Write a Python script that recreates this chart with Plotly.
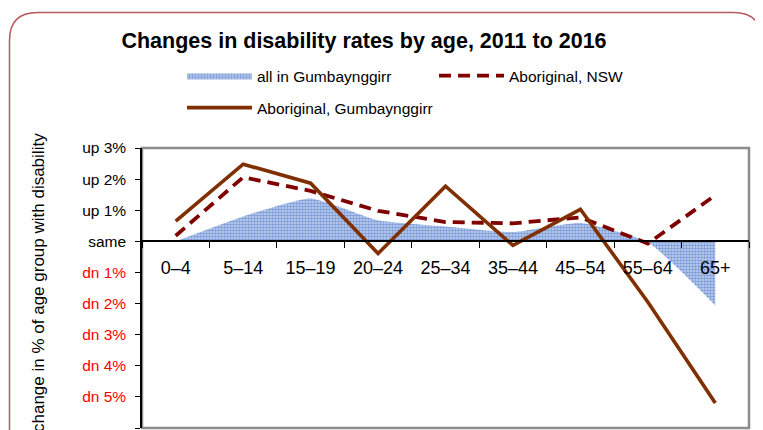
import plotly.graph_objects as go

# ---- data ----
categories = ["0–4", "5–14", "15–19", "20–24", "25–34", "35–44", "45–54", "55–64", "65+"]
all_gumbaynggirr = [0.0, 0.8, 1.38, 0.68, 0.48, 0.3, 0.59, -0.03, -2.06]
aboriginal_nsw = [0.18, 2.06, 1.62, 0.98, 0.62, 0.58, 0.77, -0.07, 1.48]
aboriginal_gumbaynggirr = [0.65, 2.48, 1.87, -0.39, 1.77, -0.13, 1.03, -1.95, -5.2]

y_tickvals = [3, 2, 1, 0, -1, -2, -3, -4, -5, -6]
y_ticktext = ["up 3%", "up 2%", "up 1%", "same", "dn 1%", "dn 2%", "dn 3%", "dn 4%", "dn 5%", "dn 6%"]

# page body has an 8px default margin; lay out in screen pixels and convert
OFF = 8
W, H = 763 - OFF, 430 - OFF
PL, PR, PT, PB = 142, 749, 148, 428          # plot area in screen pixels
L, R, T, B = PL - OFF, W - (PR - OFF), PT - OFF, H - (PB - OFF)
PW, PH = W - L - R, H - T - B

def px(x):
    return (x - OFF - L) / PW

def py(y):
    return (H - B - (y - OFF)) / PH

def cx(x):
    return (x - OFF) / W

def cy(y):
    return 1 - (y - OFF) / H

FONT = "Liberation Sans, Arial, sans-serif"

fig = go.Figure()
fig.add_trace(go.Scatter(
    x=categories, y=all_gumbaynggirr, name="all in Gumbaynggirr",
    mode="lines", line=dict(width=0, shape="spline", smoothing=0.5, color="#4472C4"),
    fill="tozeroy",
    fillpattern=dict(shape=".", size=3, solidity=0.55, fgcolor="#2F5FBF",
                     bgcolor="rgba(150,178,228,0.55)"),
    legend="legend",
))
fig.add_trace(go.Scatter(
    x=categories, y=aboriginal_nsw, name="Aboriginal, NSW",
    mode="lines", line=dict(width=3.8, color="#800000", dash="12px,7px"),
    legend="legend",
))
fig.add_trace(go.Scatter(
    x=categories, y=aboriginal_gumbaynggirr, name="Aboriginal, Gumbaynggirr",
    mode="lines", line=dict(width=3.6, color="#7F2F00"),
    legend="legend2",
))

ticktext = [t if not t.startswith("dn") else f"<span style='color:#FF0000'>{t}</span>" for t in y_ticktext]

# frame around whole figure (rounded rectangle)
x0, x1, y0, y1, r = 9.5, 761.5, 12.5, 470, 28
path = (f"M {px(x0)},{py(y0 + r)} Q {px(x0)},{py(y0)} {px(x0 + r)},{py(y0)} "
        f"L {px(x1 - r)},{py(y0)} Q {px(x1)},{py(y0)} {px(x1)},{py(y0 + r)} "
        f"L {px(x1)},{py(y1)} L {px(x0)},{py(y1)} Z")

fig.update_layout(
    width=W, height=H,
    margin=dict(l=L, r=R, t=T, b=B, autoexpand=False),
    paper_bgcolor="white", plot_bgcolor="white",
    font=dict(family=FONT, color="black"),
    title=dict(text="<b>Changes in disability rates by age, 2011 to 2016</b>",
               font=dict(size=21.5, family=FONT, color="black"),
               xref="container", x=cx(364), xanchor="center",
               yref="container", y=cy(40), yanchor="middle", automargin=False),
    xaxis=dict(
        type="category", categoryorder="array", categoryarray=categories,
        range=[-0.5, 8.5], anchor="free", position=py(241),
        showline=True, linecolor="black", linewidth=1.5,
        ticks="outside", tickson="boundaries", ticklen=6, tickcolor="black", tickwidth=1,
        tickfont=dict(size=18, family=FONT, color="black"), ticklabelstandoff=11,
        showgrid=False, zeroline=False, automargin=False,
    ),
    yaxis=dict(
        range=[-6, 3], tickvals=y_tickvals, ticktext=ticktext,
        showline=True, linecolor="black", linewidth=1.5,
        ticks="outside", ticklen=5, tickcolor="black",
        tickfont=dict(size=15.5, family=FONT, color="black"),
        showgrid=False, zeroline=False, ticklabelstandoff=6, automargin=False,
    ),
    showlegend=True,
    legend=dict(orientation="h", xref="container", yref="container",
                x=cx(182), y=cy(76), xanchor="left", yanchor="middle",
                itemwidth=65, entrywidth=172, bgcolor="rgba(0,0,0,0)",
                font=dict(size=15.5, family=FONT, color="black"), traceorder="normal",
                itemclick=False),
    legend2=dict(orientation="h", xref="container", yref="container",
                 x=cx(182), y=cy(108), xanchor="left", yanchor="middle",
                 itemwidth=65, bgcolor="rgba(0,0,0,0)",
                 font=dict(size=15.5, family=FONT, color="black")),
    shapes=[
        dict(type="rect", xref="paper", yref="paper", x0=0, x1=1, y0=0, y1=1,
             line=dict(color="#8C8C8C", width=2.5), layer="below"),
        dict(type="path", xref="paper", yref="paper", path=path,
             line=dict(color="#B55A5A", width=1.5)),
    ],
    annotations=[
        dict(text="change in % of age group with disability", textangle=-90,
             xref="paper", yref="paper", x=px(38), y=py(282), xanchor="center", yanchor="middle",
             showarrow=False, font=dict(size=17, family=FONT, color="black")),
    ],
)

fig.write_html("out.html")
